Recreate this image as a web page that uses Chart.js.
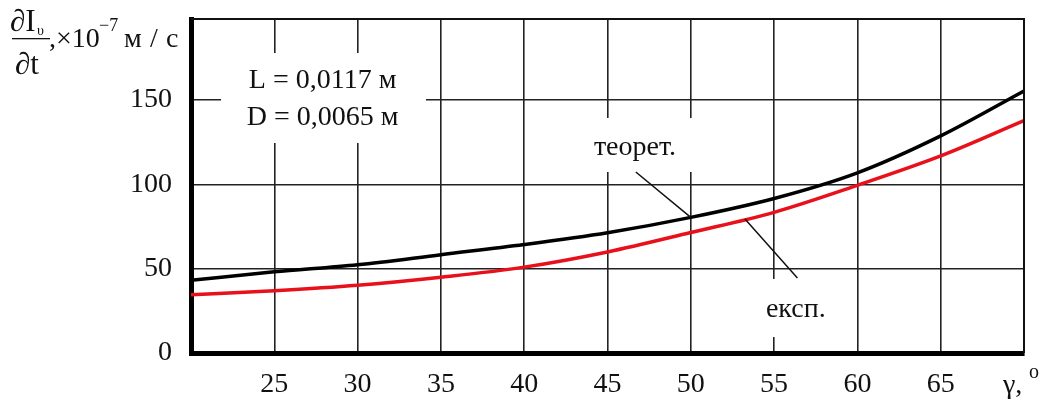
<!DOCTYPE html>
<html>
<head>
<meta charset="utf-8">
<script src="https://cdn.jsdelivr.net/npm/chart.js@4.4.1/dist/chart.umd.min.js"></script>
<style>
html,body{margin:0;padding:0;background:#fff;}
#wrap{width:1045px;height:403px;position:relative;}
</style>
</head>
<body>
<div id="wrap"><canvas id="c" width="1045" height="403"></canvas></div>
<script>
// ---- data ----
const gammaDeg     = [20, 25, 30, 35, 40, 45, 50, 55, 60, 65, 70];
const theoretical  = [43.1, 48.1, 52.3, 58.3, 64.3, 71.3, 80.4, 91.6, 106.8, 128.7, 155.3];
const experimental = [34.6, 36.9, 40.1, 44.9, 50.9, 59.9, 71.4, 83.4, 99.4, 116.8, 137.7];
const xTickLabels  = [25, 30, 35, 40, 45, 50, 55, 60, 65];
const yTickLabels  = [0, 50, 100, 150];
const paramLines   = ['L = 0,0117 м', 'D = 0,0065 м'];
const labelTheor   = 'теорет.';
const labelExp     = 'експ.';

const FONT = "'Liberation Serif', 'Times New Roman', serif";

function toPts(xs, ys){ return xs.map((x,i)=>({x:x, y:ys[i]})); }

const overlay = {
  id: 'overlay',
  beforeDatasetsDraw(chart){
    const ctx = chart.ctx;
    ctx.save();
    ctx.fillStyle = '#fff';
    // white boxes behind annotation texts (cover gridlines)
    ctx.fillRect(221, 53, 205, 90);
    ctx.fillRect(578, 118, 128, 54);
    ctx.fillRect(750, 279, 92, 58);
    ctx.restore();
  },
  afterDatasetsDraw(chart){
    const ctx = chart.ctx, xs = chart.scales.x, ys = chart.scales.y;
    const a = chart.chartArea;
    ctx.save();
    // top & right frame
    ctx.strokeStyle = '#111';
    ctx.lineWidth = 2;
    ctx.beginPath();
    ctx.moveTo(a.left, a.top); ctx.lineTo(a.right, a.top); ctx.lineTo(a.right, a.bottom);
    ctx.stroke();

    ctx.fillStyle = '#111';
    ctx.font = '28px ' + FONT;
    ctx.textAlign = 'center';
    ctx.textBaseline = 'middle';
    // parameters box
    ctx.fillText(paramLines[0], xs.getPixelForValue(27.9), ys.getPixelForValue(161.5));
    ctx.fillText(paramLines[1], xs.getPixelForValue(27.9), ys.getPixelForValue(139.5));
    // curve labels
    ctx.fillText(labelTheor, xs.getPixelForValue(46.65), ys.getPixelForValue(122));
    ctx.fillText(labelExp, xs.getPixelForValue(56.3), ys.getPixelForValue(25.5));

    // leader lines
    ctx.strokeStyle = '#111';
    ctx.lineWidth = 1.5;
    ctx.beginPath();
    ctx.moveTo(xs.getPixelForValue(46.7), ys.getPixelForValue(107.3));
    ctx.lineTo(xs.getPixelForValue(50), ys.getPixelForValue(theoretical[6]));
    ctx.moveTo(xs.getPixelForValue(53.25), ys.getPixelForValue(79.4));
    ctx.lineTo(xs.getPixelForValue(56.4), ys.getPixelForValue(44.5));
    ctx.stroke();

    // x axis title  γ, °
    ctx.textAlign = 'left';
    ctx.textBaseline = 'alphabetic';
    ctx.font = '28px ' + FONT;
    ctx.fillText('γ,', 1003, 393);
    ctx.font = '20px ' + FONT;
    ctx.fillText('o', 1029, 378);

    // y axis title: ∂Iυ/∂t, ×10^-7 м / с
    ctx.font = '31px ' + FONT;
    ctx.fillText('∂I', 10, 31);
    ctx.font = '14px ' + FONT;
    ctx.fillText('υ', 37, 35);
    ctx.fillRect(12, 38, 38, 1.3);
    ctx.font = '31px ' + FONT;
    ctx.fillText('∂t', 15, 74);
    ctx.font = '28px ' + FONT;
    ctx.fillText(',', 49, 47);
    ctx.fillText('×10', 56, 47);
    ctx.font = '18px ' + FONT;
    ctx.fillText('−7', 99, 31);
    ctx.font = '28px ' + FONT;
    ctx.fillText('м', 124, 47);
    ctx.fillText('/', 150, 47);
    ctx.fillText('с', 166, 47);
    ctx.restore();
  }
};

new Chart(document.getElementById('c'), {
  type: 'line',
  data: {
    datasets: [
      { label: 'теорет.', data: toPts(gammaDeg, theoretical), borderColor: '#000', borderWidth: 3.5,
        pointRadius: 0, cubicInterpolationMode: 'monotone', fill: false },
      { label: 'експ.', data: toPts(gammaDeg, experimental), borderColor: '#e8101a', borderWidth: 3.5,
        pointRadius: 0, cubicInterpolationMode: 'monotone', fill: false }
    ]
  },
  options: {
    responsive: false,
    animation: false,
    devicePixelRatio: 1,
    layout: { padding: { left: 0, right: 21, top: 19, bottom: 0 } },
    plugins: { legend: { display: false }, tooltip: { enabled: false } },
    scales: {
      x: {
        type: 'linear', min: 20, max: 70,
        afterFit(s){ s.height = 50; s.paddingLeft = 0; s.paddingRight = 0; },
        afterBuildTicks(s){ s.ticks = xTickLabels.map(v=>({value:v})); },
        grid: { drawTicks: false, color: '#222', lineWidth: 1.6 },
        border: { display: true, color: '#000', width: 5 },
        ticks: { color: '#111', font: { family: FONT, size: 28 }, padding: 15, maxRotation: 0, autoSkip: false }
      },
      y: {
        type: 'linear', min: 0, max: 198,
        afterFit(s){ s.width = 191; s.paddingTop = 0; s.paddingBottom = 0; },
        afterBuildTicks(s){ s.ticks = yTickLabels.map(v=>({value:v})); },
        grid: { drawTicks: false, color: (c)=> c.tick && c.tick.value === 0 ? 'rgba(0,0,0,0)' : '#222', lineWidth: 1.6 },
        border: { display: true, color: '#000', width: 5 },
        ticks: { color: '#111', font: { family: FONT, size: 28 }, padding: 19 }
      }
    }
  },
  plugins: [overlay]
});
</script>
</body>
</html>
